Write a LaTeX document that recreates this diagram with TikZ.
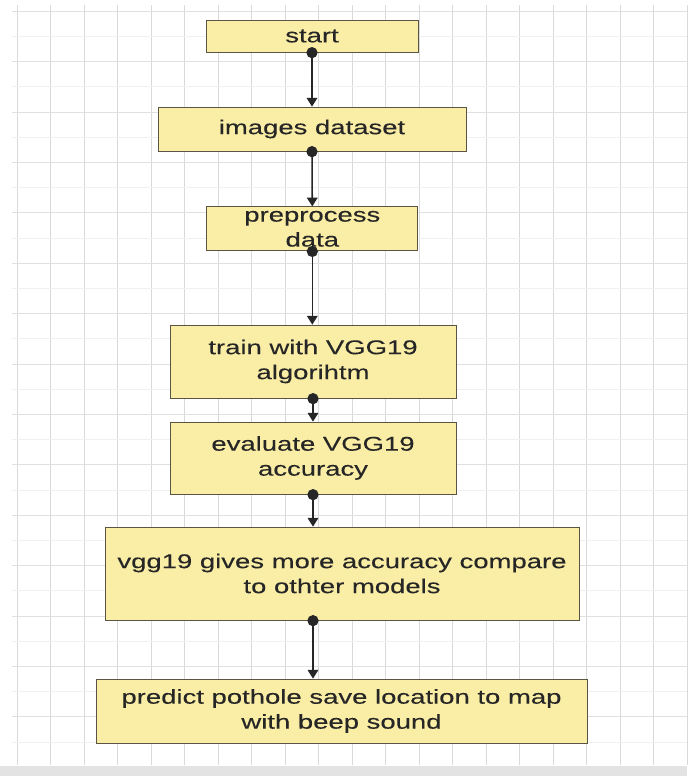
\documentclass[tikz,border=0pt]{standalone}
\usepackage{fontspec}
\newfontfamily\flowfont{Liberation Sans}[FakeStretch=1.38,FakeBold=0.15]
\usetikzlibrary{arrows.meta}
\definecolor{boxfill}{HTML}{FAEEA6}
\definecolor{boxline}{HTML}{5A5442}
\definecolor{linkcol}{HTML}{262626}
\tikzset{
  stepbox/.style={draw=boxline, fill=boxfill, line width=0.6pt, align=center,
    inner sep=0pt, text=linkcol, font=\flowfont\fontsize{17}{21.3}\selectfont},
  link/.style={draw=linkcol, line width=1.3pt, shorten <=-4.5pt,
    {Circle[length=9.5pt]}-{Triangle[length=7.5pt,width=9pt]}},
}
\begin{document}
\begin{tikzpicture}[x=0.03cm,y=-0.03cm]
\useasboundingbox (0,0) rectangle (687,776);
\fill[white] (0,0) rectangle (687,776);
\foreach \i in {0,...,20}
  \draw[gray!30, line width=0.5pt] ({17+33.5*\i},5) -- ({17+33.5*\i},765);
\foreach \k in {0,...,14}
{
  \draw[gray!24, line width=0.5pt] (12,{11+50.4*\k}) -- (687,{11+50.4*\k});
  \draw[gray!12, line width=0.5pt] (12,{36.2+50.4*\k}) -- (687,{36.2+50.4*\k});
}
\fill[gray!22] (0,766) rectangle (687,776);

\node[stepbox, minimum width=6.36cm, minimum height=0.96cm] (start) at (312,36) {start};
\node[stepbox, minimum width=9.24cm, minimum height=1.32cm] (images) at (312,129) {images dataset};
\node[stepbox, minimum width=6.33cm, minimum height=1.32cm] (prep) at (312.3,228.8) {preprocess\\data};
\node[stepbox, minimum width=8.58cm, minimum height=2.19cm] (train) at (313,361.5) {train with VGG19\\algorihtm};
\node[stepbox, minimum width=8.58cm, minimum height=2.16cm] (eval) at (313,458) {evaluate VGG19\\accuracy};
\node[stepbox, minimum width=14.22cm, minimum height=2.79cm] (vgg) at (342,573.5) {vgg19 gives more accuracy compare\\to othter models};
\node[stepbox, minimum width=14.73cm, minimum height=1.92cm] (pred) at (341.5,711) {predict pothole save location to map\\with beep sound};

\draw[link] (start.south) -- (images.north);
\draw[link] (images.south) -- (prep.north);
\draw[link] (prep.south) -- (train.north -| prep.south);
\draw[link] (train.south) -- (eval.north);
\draw[link] (eval.south) -- (vgg.north -| eval.south);
\draw[link] (vgg.south -| eval.south) -- (pred.north -| eval.south);
\end{tikzpicture}
\end{document}
